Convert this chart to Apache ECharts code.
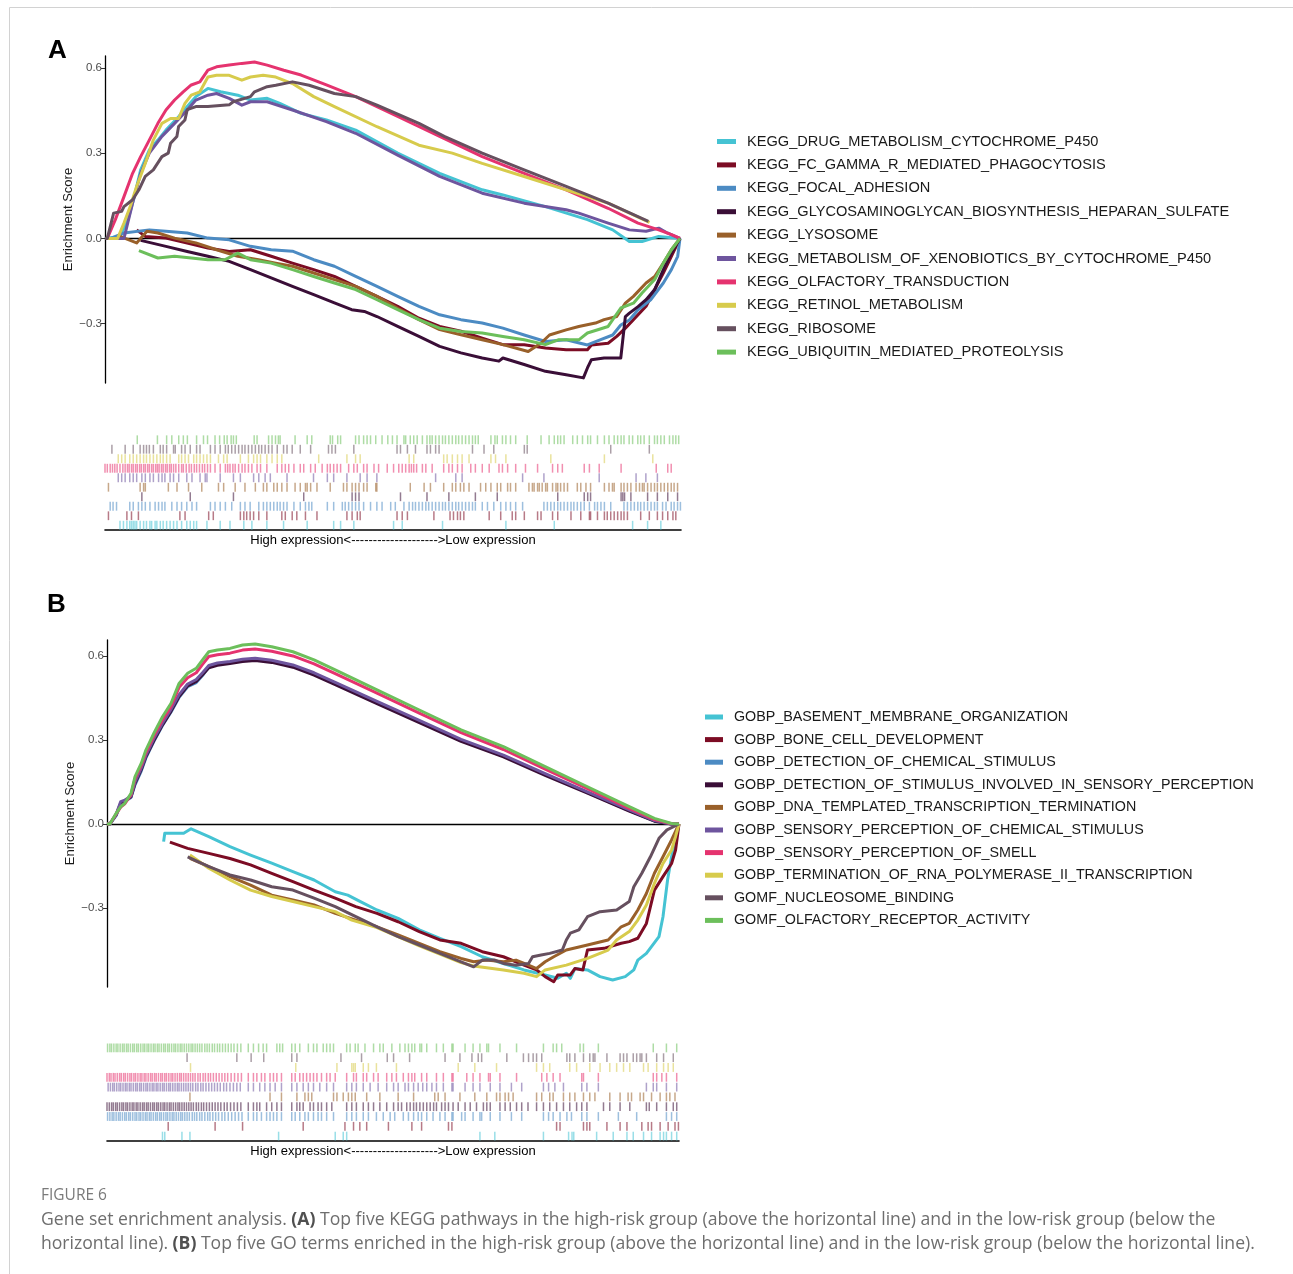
<!DOCTYPE html>
<html><head><meta charset="utf-8">
<script src="https://cdn.jsdelivr.net/npm/echarts@6/dist/echarts.min.js"></script>
<style>html,body{margin:0;padding:0;background:#fff}#c{width:1293px;height:1274px}</style>
</head><body><div id="c"></div>
<script>
// ---------- names ----------
const keggNames = ["KEGG_DRUG_METABOLISM_CYTOCHROME_P450","KEGG_FC_GAMMA_R_MEDIATED_PHAGOCYTOSIS","KEGG_FOCAL_ADHESION","KEGG_GLYCOSAMINOGLYCAN_BIOSYNTHESIS_HEPARAN_SULFATE","KEGG_LYSOSOME","KEGG_METABOLISM_OF_XENOBIOTICS_BY_CYTOCHROME_P450","KEGG_OLFACTORY_TRANSDUCTION","KEGG_RETINOL_METABOLISM","KEGG_RIBOSOME","KEGG_UBIQUITIN_MEDIATED_PROTEOLYSIS"];
const goNames = ["GOBP_BASEMENT_MEMBRANE_ORGANIZATION","GOBP_BONE_CELL_DEVELOPMENT","GOBP_DETECTION_OF_CHEMICAL_STIMULUS","GOBP_DETECTION_OF_STIMULUS_INVOLVED_IN_SENSORY_PERCEPTION","GOBP_DNA_TEMPLATED_TRANSCRIPTION_TERMINATION","GOBP_SENSORY_PERCEPTION_OF_CHEMICAL_STIMULUS","GOBP_SENSORY_PERCEPTION_OF_SMELL","GOBP_TERMINATION_OF_RNA_POLYMERASE_II_TRANSCRIPTION","GOMF_NUCLEOSOME_BINDING","GOMF_OLFACTORY_RECEPTOR_ACTIVITY"];
const yTicks = [-0.3, 0, 0.3, 0.6];
const xLabel = "High expression<-------------------->Low expression";

// ---------- running enrichment score, panel A: [rank %, ES] ----------
const esA_drug = [[0,0],[2.6,0.007],[4.0,0.066],[5.1,0.147],[6.2,0.241],[7.7,0.311],[9.2,0.346],[10.6,0.381],[12.8,0.428],[14.3,0.464],[15.8,0.499],[17.9,0.528],[20.1,0.516],[23.1,0.504],[25.3,0.487],[28.2,0.493],[30.4,0.475],[34.1,0.440],[38.5,0.417],[43.6,0.381],[50.9,0.300],[58.2,0.229],[65.6,0.171],[69.2,0.153],[76.6,0.112],[83.9,0.066],[88.3,0.030],[91.2,-0.011],[93.4,-0.011],[96.3,0.007],[100,0]];
const esA_fc = [[5.5,0.030],[7.0,0.007],[10.6,0.001],[14.3,-0.016],[17.9,-0.034],[21.6,-0.046],[25.3,-0.040],[28.9,-0.063],[32.6,-0.087],[36.3,-0.110],[39.9,-0.134],[43.6,-0.169],[47.3,-0.204],[50.9,-0.239],[54.6,-0.281],[58.2,-0.310],[61.9,-0.327],[65.6,-0.351],[69.2,-0.374],[72.9,-0.374],[76.6,-0.386],[80.2,-0.392],[83.9,-0.392],[84.6,-0.375],[87.5,-0.369],[89.0,-0.345],[90.5,-0.316],[91.9,-0.286],[94.1,-0.239],[95.6,-0.180],[97.1,-0.122],[98.5,-0.063],[100,0]];
const esA_focal = [[1.0,0.0],[3.3,0.019],[7.7,0.030],[10.6,0.025],[14.3,0.019],[17.9,0.001],[21.6,-0.005],[25.3,-0.028],[28.9,-0.040],[32.6,-0.045],[36.3,-0.075],[39.9,-0.098],[43.6,-0.134],[47.3,-0.169],[50.9,-0.204],[54.6,-0.239],[58.2,-0.269],[61.9,-0.286],[65.6,-0.298],[69.2,-0.316],[72.9,-0.340],[76.6,-0.363],[80.2,-0.357],[83.9,-0.375],[86.1,-0.357],[88.3,-0.340],[89.7,-0.305],[91.2,-0.287],[92.7,-0.251],[94.9,-0.216],[97.1,-0.157],[98.5,-0.110],[99.6,-0.063],[100,0]];
const esA_glyco = [[6.2,-0.007],[10.6,-0.028],[14.3,-0.046],[17.9,-0.063],[21.6,-0.081],[25.3,-0.110],[28.9,-0.139],[32.6,-0.169],[36.3,-0.198],[39.9,-0.227],[42.9,-0.251],[45.1,-0.257],[47.3,-0.275],[50.9,-0.310],[54.6,-0.345],[58.2,-0.380],[61.9,-0.403],[65.6,-0.421],[68.5,-0.432],[69.2,-0.421],[72.9,-0.444],[76.6,-0.468],[80.2,-0.480],[83.2,-0.491],[83.9,-0.456],[84.6,-0.427],[86.8,-0.421],[89.7,-0.421],[90.5,-0.275],[91.2,-0.263],[92.7,-0.240],[94.1,-0.216],[95.6,-0.180],[97.1,-0.110],[98.5,-0.052],[100,0]];
const esA_lyso = [[2.6,0.007],[5.5,-0.016],[7.3,0.025],[9.2,0.019],[12.1,0.001],[15.8,-0.016],[19.4,-0.040],[23.1,-0.063],[26.7,-0.075],[29.7,-0.087],[32.6,-0.098],[36.3,-0.122],[39.9,-0.145],[43.6,-0.169],[47.3,-0.204],[50.9,-0.246],[54.6,-0.286],[58.2,-0.321],[61.9,-0.339],[65.6,-0.357],[69.2,-0.374],[73.6,-0.398],[75.8,-0.369],[77.3,-0.340],[80.2,-0.322],[82.4,-0.310],[85.3,-0.298],[86.8,-0.286],[89.0,-0.275],[90.5,-0.228],[91.9,-0.204],[94.1,-0.157],[95.6,-0.134],[97.1,-0.087],[98.5,-0.040],[100,0]];
const esA_xeno = [[0,0],[3.3,0],[4.8,0.124],[6.2,0.229],[7.7,0.300],[9.9,0.359],[12.1,0.405],[14.3,0.452],[15.8,0.487],[17.9,0.504],[19.4,0.510],[21.6,0.493],[23.8,0.469],[25.3,0.481],[28.2,0.481],[32.6,0.452],[38.5,0.411],[43.6,0.370],[50.9,0.293],[58.2,0.218],[65.6,0.159],[72.9,0.124],[80.2,0.101],[82.4,0.089],[87.5,0.054],[91.2,0.030],[94.1,0.025],[96.3,0.036],[97.8,0.019],[100,0]];
const esA_olf = [[0,0],[0.4,0],[1.8,0.066],[3.3,0.147],[4.8,0.229],[6.2,0.288],[7.7,0.346],[9.2,0.405],[10.6,0.452],[12.1,0.487],[13.6,0.516],[15.0,0.540],[16.5,0.551],[17.9,0.592],[19.4,0.604],[21.6,0.610],[23.8,0.616],[26.0,0.621],[28.2,0.610],[31.1,0.592],[34.1,0.575],[38.5,0.540],[43.6,0.499],[50.9,0.429],[58.2,0.359],[65.6,0.288],[72.9,0.229],[80.2,0.171],[87.5,0.106],[92.7,0.054],[96.3,0.030],[98.5,0.013],[100,0]];
const esA_retinol = [[0,0],[2.2,0],[3.3,0.054],[4.4,0.113],[5.5,0.183],[7.0,0.264],[8.4,0.346],[9.9,0.405],[11.4,0.422],[12.8,0.422],[13.9,0.475],[15.0,0.504],[16.5,0.516],[17.9,0.568],[19.4,0.574],[21.6,0.574],[23.8,0.557],[25.3,0.568],[27.5,0.574],[29.7,0.568],[32.6,0.545],[36.3,0.499],[39.9,0.464],[47.3,0.393],[54.6,0.328],[60.4,0.300],[65.6,0.264],[72.9,0.218],[80.2,0.171],[87.5,0.124],[94.7,0.056]];
const esA_ribo = [[0,0],[0.4,0],[1.5,0.089],[2.9,0.095],[3.3,0.112],[4.8,0.136],[5.9,0.171],[7.0,0.218],[8.4,0.241],[9.9,0.288],[11.0,0.300],[11.4,0.335],[12.5,0.359],[12.8,0.394],[13.9,0.417],[14.3,0.453],[15.8,0.464],[17.9,0.464],[21.6,0.470],[22.3,0.481],[25.3,0.499],[26.0,0.516],[28.2,0.534],[29.7,0.539],[32.6,0.551],[35.5,0.539],[39.9,0.510],[43.6,0.499],[47.3,0.469],[54.6,0.405],[59.0,0.359],[65.6,0.300],[72.9,0.241],[80.2,0.183],[87.5,0.124],[94.5,0.060]];
const esA_ubi = [[5.9,-0.043],[9.2,-0.069],[12.1,-0.063],[15.0,-0.069],[17.9,-0.075],[20.9,-0.075],[23.1,-0.052],[25.3,-0.075],[28.9,-0.087],[32.6,-0.110],[36.3,-0.134],[39.9,-0.157],[43.6,-0.180],[47.3,-0.216],[50.9,-0.251],[54.6,-0.286],[58.2,-0.316],[61.9,-0.328],[65.6,-0.333],[69.2,-0.345],[72.9,-0.357],[76.6,-0.374],[78.8,-0.357],[82.4,-0.357],[83.9,-0.333],[87.5,-0.310],[89.7,-0.245],[91.9,-0.228],[93.4,-0.192],[95.6,-0.145],[97.1,-0.087],[98.5,-0.040],[100,0]];

// ---------- running enrichment score, panel B ----------
const esB_bm = [[9.9,-0.063],[10.1,-0.033],[11.9,-0.033],[13.4,-0.033],[14.7,-0.017],[17.8,-0.045],[21.5,-0.081],[25.1,-0.111],[28.8,-0.140],[32.5,-0.170],[36.2,-0.200],[39.9,-0.242],[42.1,-0.254],[44.3,-0.277],[47.2,-0.307],[50.9,-0.337],[54.6,-0.378],[58.2,-0.408],[61.9,-0.438],[65.6,-0.474],[69.3,-0.498],[72.9,-0.521],[76.6,-0.539],[78.8,-0.551],[80.3,-0.533],[81.0,-0.551],[81.8,-0.516],[84.0,-0.521],[86.2,-0.545],[88.4,-0.557],[90.6,-0.545],[92.1,-0.521],[92.8,-0.486],[94.3,-0.462],[96.5,-0.402],[97.2,-0.331],[98.0,-0.200],[98.7,-0.117],[99.4,-0.057],[100,0]];
const esB_bone = [[11.0,-0.065],[14.1,-0.087],[17.8,-0.105],[21.5,-0.123],[25.1,-0.146],[28.8,-0.176],[32.5,-0.206],[36.2,-0.236],[39.9,-0.265],[43.5,-0.295],[47.2,-0.319],[50.9,-0.349],[54.6,-0.384],[58.2,-0.414],[61.9,-0.426],[65.6,-0.456],[69.3,-0.474],[72.9,-0.504],[75.1,-0.521],[76.6,-0.545],[78.1,-0.563],[78.8,-0.539],[81.0,-0.539],[81.8,-0.516],[83.2,-0.521],[84.0,-0.450],[86.9,-0.444],[89.9,-0.426],[91.3,-0.420],[92.8,-0.408],[94.3,-0.355],[95.7,-0.236],[97.2,-0.188],[98.7,-0.141],[99.4,-0.093],[100,0]];
const esB_dcs = [[0,0],[0.5,0],[1.6,0.030],[2.4,0.072],[3.1,0.080],[4.2,0.095],[4.9,0.140],[6.0,0.190],[6.8,0.236],[8.2,0.295],[9.7,0.352],[11.2,0.400],[12.6,0.452],[14.1,0.490],[15.6,0.505],[16.7,0.530],[17.8,0.560],[19.3,0.570],[21.5,0.576],[23.7,0.584],[25.9,0.588],[28.8,0.581],[32.5,0.564],[36.2,0.536],[39.9,0.502],[47.2,0.434],[54.6,0.366],[61.9,0.298],[69.3,0.243],[76.6,0.177],[84.0,0.112],[91.3,0.048],[95.7,0.011],[98.7,0.000],[100,0]];
const esB_dss = [[0,0],[0.5,0],[1.6,0.033],[2.4,0.075],[3.1,0.082],[4.2,0.097],[4.9,0.145],[6.0,0.195],[6.8,0.240],[8.2,0.298],[9.7,0.354],[11.2,0.403],[12.6,0.455],[14.1,0.493],[15.6,0.509],[16.7,0.533],[17.8,0.558],[19.3,0.567],[21.5,0.573],[23.7,0.580],[25.9,0.584],[28.8,0.577],[32.5,0.560],[36.2,0.532],[39.9,0.498],[47.2,0.430],[54.6,0.362],[61.9,0.295],[69.3,0.240],[76.6,0.174],[84.0,0.110],[91.3,0.046],[95.7,0.010],[98.7,0.000],[100,0]];
const esB_dna = [[14.5,-0.123],[17.8,-0.152],[21.5,-0.188],[25.1,-0.218],[28.8,-0.254],[32.5,-0.271],[36.2,-0.289],[39.9,-0.319],[43.5,-0.343],[47.2,-0.367],[50.9,-0.396],[54.6,-0.426],[58.2,-0.456],[61.9,-0.480],[64.1,-0.492],[66.3,-0.486],[69.3,-0.492],[71.5,-0.486],[73.7,-0.504],[75.1,-0.516],[76.6,-0.492],[78.1,-0.474],[80.3,-0.450],[84.0,-0.432],[87.6,-0.414],[89.9,-0.367],[91.3,-0.355],[92.8,-0.307],[94.3,-0.248],[95.7,-0.176],[97.2,-0.117],[98.7,-0.057],[100,0]];
const esB_spcs = [[0,0],[0.5,0],[1.6,0.035],[2.4,0.080],[3.1,0.085],[4.2,0.100],[4.9,0.150],[6.0,0.200],[6.8,0.245],[8.2,0.305],[9.7,0.360],[11.2,0.410],[12.6,0.462],[14.1,0.500],[15.6,0.516],[16.7,0.540],[17.8,0.566],[19.3,0.575],[21.5,0.580],[23.7,0.588],[25.9,0.592],[28.8,0.585],[32.5,0.568],[36.2,0.540],[39.9,0.506],[47.2,0.438],[54.6,0.370],[61.9,0.302],[69.3,0.246],[76.6,0.180],[84.0,0.115],[91.3,0.050],[95.7,0.012],[98.7,0.000],[100,0]];
const esB_smell = [[0,0],[0.5,0],[1.6,0.036],[2.4,0.060],[3.1,0.072],[4.2,0.105],[4.9,0.162],[6.0,0.210],[6.8,0.255],[8.2,0.315],[9.7,0.372],[11.2,0.420],[12.6,0.488],[14.1,0.522],[15.6,0.540],[16.7,0.570],[17.8,0.598],[19.3,0.604],[21.5,0.610],[23.7,0.621],[25.9,0.625],[28.8,0.617],[32.5,0.600],[36.2,0.572],[39.9,0.537],[47.2,0.467],[54.6,0.396],[61.9,0.326],[69.3,0.266],[76.6,0.196],[84.0,0.126],[91.3,0.056],[95.7,0.016],[98.7,0.001],[100,0]];
const esB_rna = [[14.5,-0.111],[17.8,-0.158],[21.5,-0.200],[25.1,-0.236],[28.8,-0.259],[32.5,-0.277],[36.2,-0.295],[39.9,-0.313],[42.8,-0.343],[47.2,-0.370],[54.6,-0.435],[61.9,-0.495],[64.1,-0.507],[69.3,-0.521],[72.9,-0.533],[75.1,-0.545],[76.6,-0.521],[80.3,-0.504],[84.0,-0.480],[87.6,-0.450],[89.1,-0.414],[91.3,-0.384],[92.8,-0.343],[94.3,-0.289],[95.7,-0.212],[97.2,-0.141],[98.7,-0.093],[99.4,-0.045],[100,0]];
const esB_nuc = [[14.1,-0.117],[17.8,-0.152],[21.5,-0.182],[25.1,-0.200],[28.8,-0.224],[32.5,-0.236],[36.2,-0.265],[39.9,-0.295],[43.5,-0.331],[47.2,-0.367],[50.9,-0.402],[54.6,-0.432],[58.2,-0.462],[61.9,-0.492],[64.1,-0.510],[65.6,-0.486],[67.8,-0.486],[69.3,-0.498],[71.5,-0.504],[73.7,-0.498],[74.4,-0.474],[75.9,-0.468],[77.4,-0.462],[79.6,-0.450],[80.3,-0.414],[81.0,-0.390],[82.5,-0.378],[84.0,-0.331],[86.2,-0.313],[89.1,-0.307],[91.3,-0.277],[92.1,-0.224],[93.5,-0.176],[95.0,-0.117],[96.5,-0.051],[97.9,-0.021],[100,0]];
const esB_olf = [[0,0],[0.5,0],[1.6,0.038],[2.4,0.062],[3.1,0.074],[4.2,0.110],[4.9,0.169],[6.0,0.217],[6.8,0.264],[8.2,0.324],[9.7,0.383],[11.2,0.431],[12.6,0.502],[14.1,0.538],[15.6,0.556],[16.7,0.586],[17.8,0.615],[19.3,0.621],[21.5,0.627],[23.7,0.639],[25.9,0.643],[28.8,0.633],[32.5,0.615],[36.2,0.586],[39.9,0.550],[47.2,0.479],[54.6,0.407],[61.9,0.336],[69.3,0.276],[76.6,0.205],[84.0,0.133],[91.3,0.062],[95.7,0.020],[98.7,0.002],[100,0]];

// ---------- gene-set hit positions (rank %), panel A ----------
const hitA_drug = [2.6,3.2,3.8,4.3,4.6,4.9,5.2,5.5,6.1,6.7,7.2,7.8,8.1,8.7,9.0,9.6,10.1,10.7,11.3,11.9,12.5,13.3,14.2,14.8,15.4,15.9,17.7,20.0,21.7,24.1,25.5,28.1,31.0,35.1,39.7,40.9,43.2,50.1,51.6,58.6,69.6,78.0,91.6,94.2,96.5];
const hitA_fc = [0.6,3.8,4.6,5.8,13.0,13.9,18.0,18.8,23.5,24.1,24.6,25.2,25.8,26.7,28.1,30.7,31.3,32.5,33.3,34.8,36.8,42.0,42.9,43.8,44.3,50.7,51.6,52.5,57.1,59.9,60.5,61.2,61.7,62.3,66.7,68.7,70.7,71.3,72.8,75.1,75.7,77.7,78.6,80.9,82.6,84.1,84.3,85.5,86.7,87.2,87.8,88.4,89.0,89.6,90.1,90.7,93.0,94.5,95.9,96.8,97.7,98.6,99.1];
const hitA_focal = [0.9,1.4,2.0,4.3,4.9,5.8,6.4,7.0,7.8,8.7,9.3,9.9,10.4,11.6,12.5,13.3,14.2,15.1,15.9,18.3,19.1,20.0,20.9,22.0,23.5,24.3,25.2,26.7,27.5,28.1,28.7,29.3,29.9,30.4,31.0,31.6,32.8,33.9,34.8,35.4,35.9,38.6,39.7,41.2,41.7,42.3,42.9,43.5,44.1,44.9,46.1,47.2,48.1,49.6,50.4,51.9,52.8,53.4,53.9,54.5,55.1,55.7,56.2,56.8,57.4,58.0,58.6,59.1,59.7,60.3,60.9,61.4,62.0,62.6,63.2,63.8,64.3,65.5,66.4,67.5,68.7,69.6,70.4,71.3,72.5,76.2,76.8,77.4,78.0,78.6,79.1,79.7,80.3,80.9,81.4,82.0,82.6,83.2,84.1,85.0,85.5,86.1,86.7,87.8,90.1,90.7,91.3,91.9,92.5,93.0,93.6,94.2,94.8,95.4,95.9,96.8,97.4,98.3,98.8,99.4,99.9];
const hitA_glyco = [6.4,14.8,22.3,34.5,42.9,43.5,44.1,51.3,55.9,59.7,64.3,68.1,78.6,83.2,83.8,84.3,89.6,89.9,90.2,91.3,94.2,95.9,97.7,99.4];
const hitA_lyso = [0.6,6.1,6.7,7.0,11.0,12.5,14.5,16.8,19.7,20.6,22.6,24.3,26.1,27.5,28.1,29.3,29.9,30.7,31.6,33.0,33.9,34.8,35.1,35.7,36.8,39.1,41.4,42.0,42.9,43.5,44.1,44.9,45.5,47.0,47.2,53.0,55.4,56.5,58.8,60.3,60.9,61.7,62.3,63.2,65.2,66.1,67.0,68.1,68.7,69.9,70.4,71.3,73.6,74.2,74.5,75.1,75.4,75.9,76.5,76.8,77.7,78.3,78.6,79.1,79.7,80.3,82.0,82.6,83.5,84.3,86.7,87.5,88.1,88.4,89.6,90.1,90.7,91.3,92.2,92.8,93.3,93.6,94.2,94.8,95.4,95.9,96.5,97.1,97.7,98.3,98.8,99.4];
const hitA_xeno = [2.3,2.9,3.5,4.3,4.9,5.5,6.4,7.0,7.8,8.4,9.3,9.9,10.4,11.3,11.9,12.8,14.2,15.1,16.5,17.4,17.7,20.0,22.3,23.5,25.8,26.7,27.8,28.7,31.6,36.2,38.6,39.7,42.0,44.3,45.5,47.2,57.4,60.9,62.0,72.5,76.2,85.8,92.2,93.9,95.9];
const hitA_olf = [0.0,0.4,0.9,1.3,1.7,2.1,2.6,3.1,3.5,3.9,4.2,4.6,4.9,5.3,5.6,6.0,6.3,6.7,7.0,7.4,7.7,8.1,8.4,8.8,9.1,9.4,9.8,10.1,10.5,10.8,11.2,11.5,11.9,12.3,12.8,13.3,13.6,14.1,14.6,15.0,15.5,15.9,16.4,16.9,17.3,17.8,18.3,19.1,20.0,20.9,21.3,21.7,22.2,22.6,23.2,23.8,24.3,24.9,25.5,26.4,27.0,28.1,29.9,30.7,31.3,31.9,32.8,33.9,34.5,35.7,36.5,37.7,38.6,39.1,39.7,40.3,40.9,42.3,43.2,43.8,44.9,45.5,46.7,47.5,49.0,50.1,51.0,51.6,52.2,52.8,53.2,53.6,54.1,55.1,55.7,56.8,58.8,59.7,60.3,61.2,62.0,63.5,64.3,65.5,66.7,68.4,69.0,69.9,71.3,73.0,75.1,77.7,78.6,79.4,83.2,84.1,85.8,89.6,95.7,97.7,98.3];
const hitA_retinol = [2.3,2.9,3.5,4.3,4.9,5.5,6.1,6.7,7.2,7.8,8.4,9.0,9.6,10.1,10.7,11.3,12.8,13.3,13.9,14.5,15.4,15.9,16.5,17.1,17.7,18.3,19.7,20.6,21.2,23.5,24.9,25.8,26.4,27.0,28.1,29.0,29.9,30.7,37.1,42.0,43.5,44.3,52.8,53.6,58.8,59.4,60.3,61.2,62.0,63.2,67.0,67.8,69.6,77.4,86.7,95.1];
const hitA_ribo = [1.2,3.5,4.9,6.1,6.7,7.2,7.7,8.4,9.6,10.1,10.7,11.9,12.2,13.3,13.9,14.8,15.9,16.5,18.3,19.1,20.0,20.9,21.4,22.0,22.6,23.2,23.8,24.3,24.9,25.5,26.1,26.7,27.2,27.8,28.4,29.0,29.9,31.0,31.6,32.5,33.9,35.7,38.8,39.4,40.0,43.2,50.7,51.3,52.5,53.9,55.9,56.5,57.4,58.0,63.8,65.8,67.5,72.8,73.3,87.8,94.5];
const hitA_ubi = [5.6,9.1,10.7,11.6,12.8,13.6,14.3,15.9,17.1,17.8,19.1,19.9,20.7,21.2,21.9,22.3,22.8,25.9,26.4,28.4,29.0,29.6,30.1,30.4,33.0,35.1,35.9,39.1,39.5,40.4,40.9,43.5,44.1,44.9,45.5,46.1,47.0,48.1,49.1,49.9,50.7,51.9,52.2,53.0,53.6,54.2,55.1,55.9,56.4,56.8,57.4,58.0,58.6,59.1,59.7,60.3,60.9,61.4,62.0,62.6,63.2,63.8,64.3,64.8,67.0,67.7,68.1,69.0,69.6,70.4,71.3,73.3,75.7,77.1,78.0,78.6,79.1,79.7,81.2,82.0,82.9,83.8,84.3,85.5,86.7,87.5,88.4,89.0,89.6,90.1,91.0,91.6,92.5,93.0,93.6,94.5,95.4,95.9,96.5,97.1,98.0,98.6,99.1,99.6];

// ---------- gene-set hit positions (rank %), panel B ----------
const hitB_bm = [9.7,10.1,13.1,14.5,30.0,39.9,41.3,41.9,65.2,67.8,76.3,80.7,81.3,81.6,85.6,88.5,90.9,92.0,93.8,95.2,96.7,97.3,97.8,98.7,99.6];
const hitB_bone = [10.7,18.9,23.7,34.3,41.6,43.1,44.2,45.4,49.2,53.3,55.0,59.7,60.3,78.6,79.2,83.3,83.9,84.4,87.4,89.7,90.9,93.5,94.6,95.2,96.7,98.1,99.3,99.9];
const hitB_dcs = [0.1,0.5,0.9,1.2,1.6,2.0,2.3,2.7,3.1,3.4,3.8,4.1,4.5,4.9,5.2,5.6,5.9,6.3,6.7,7.0,7.4,7.7,8.1,8.5,8.8,9.2,9.5,9.9,10.3,10.6,11.0,11.4,11.7,12.1,12.5,12.9,13.2,13.6,14.0,14.4,14.9,15.3,15.7,16.2,16.6,17.1,17.6,18.0,18.5,19.0,19.5,20.1,20.6,21.2,21.8,22.4,23.0,23.6,24.7,25.6,26.2,27.0,27.9,28.5,29.1,29.7,30.5,32.3,32.9,33.7,34.6,35.2,36.1,36.9,37.5,38.4,39.6,41.9,42.8,43.6,44.8,45.7,47.1,48.3,49.5,50.3,51.8,52.7,53.6,54.4,55.0,55.9,57.0,58.2,59.1,60.3,60.5,62.0,62.6,64.0,65.2,65.5,67.0,68.7,70.7,72.5,76.3,77.2,78.0,79.2,80.4,81.2,83.0,83.9,85.9,89.4,92.6,97.8,98.7,99.6];
const hitB_dss = [0.0,0.4,0.8,1.1,1.5,1.8,2.2,2.6,2.9,3.3,3.6,4.0,4.4,4.7,5.1,5.4,5.8,6.2,6.5,6.9,7.2,7.6,8.0,8.3,8.7,9.0,9.4,9.8,10.1,10.5,10.9,11.2,11.6,12.0,12.4,12.7,13.1,13.5,13.9,14.3,14.7,15.1,15.6,16.0,16.5,16.9,17.4,17.9,18.4,18.9,19.4,19.9,20.5,21.0,21.6,22.2,22.8,23.4,24.7,25.6,26.2,26.7,27.9,28.8,29.7,30.5,32.3,33.2,33.7,34.3,35.5,36.1,36.9,37.5,38.4,39.3,41.9,42.8,43.6,44.8,45.7,46.6,47.7,48.9,50.1,50.9,51.5,52.4,53.0,53.6,54.1,54.7,55.3,55.9,56.5,57.1,57.6,58.5,59.1,59.7,60.5,61.4,62.6,63.5,64.6,65.8,66.4,67.0,68.7,69.6,70.5,71.6,72.5,73.6,75.1,76.3,77.4,78.6,79.8,80.9,82.1,83.0,83.9,86.8,87.9,89.7,91.4,94.3,94.8,96.1,97.8,99.0,99.6];
const hitB_dna = [14.5,28.5,30.5,33.2,34.6,35.2,35.8,39.6,40.2,41.3,42.2,42.8,43.4,45.4,47.7,50.9,53.6,57.3,57.9,59.1,61.7,64.3,66.4,68.1,68.7,69.6,70.2,71.0,75.1,76.0,77.4,78.0,79.8,80.9,81.8,83.3,84.4,85.3,87.9,89.7,91.1,91.7,93.2,93.8,95.2,96.7,97.8,98.4,99.3];
const hitB_spcs = [0.2,0.6,1.0,1.3,1.7,2.1,2.4,2.8,3.2,3.5,3.9,4.2,4.6,5.0,5.3,5.7,6.0,6.4,6.8,7.1,7.5,7.9,8.2,8.6,8.9,9.3,9.7,10.0,10.4,10.8,11.1,11.5,11.9,12.3,12.6,13.0,13.4,13.8,14.2,14.6,15.0,15.5,15.9,16.4,16.8,17.3,17.8,18.3,18.8,19.3,19.8,20.4,20.9,21.5,22.1,22.7,23.3,24.7,25.6,26.7,27.6,28.5,29.4,30.5,32.3,33.2,34.3,35.2,36.1,37.2,38.4,39.6,41.9,42.8,43.6,44.8,46.0,47.4,48.9,50.1,50.9,52.1,52.7,53.6,54.4,55.2,55.9,56.8,57.6,58.8,60.3,60.5,62.6,64.0,65.2,67.0,68.7,70.7,72.5,76.3,77.2,78.3,79.8,83.0,83.9,85.9,94.3,95.5,96.1,97.8,99.6];
const hitB_smell = [0.0,0.4,0.7,1.1,1.4,1.8,2.2,2.5,2.9,3.2,3.6,4.0,4.3,4.7,5.0,5.4,5.8,6.1,6.5,6.8,7.2,7.6,7.9,8.3,8.6,9.0,9.4,9.7,10.1,10.4,10.8,11.2,11.5,11.9,12.3,12.7,13.0,13.4,13.8,14.2,14.6,15.0,15.4,15.9,16.3,16.8,17.2,17.7,18.1,18.6,19.1,19.6,20.1,20.6,21.1,21.7,22.3,22.9,23.5,24.7,25.6,26.2,27.0,27.6,28.5,29.1,29.7,30.5,32.3,32.9,33.7,34.3,34.9,35.5,36.1,36.7,37.5,38.4,39.0,39.9,41.9,43.1,43.6,44.8,45.4,46.6,47.4,48.9,49.8,50.6,51.8,52.7,53.3,53.8,55.0,55.9,57.6,58.8,60.3,60.5,62.9,64.0,65.2,66.7,67.0,68.7,71.6,76.0,76.9,78.0,79.2,83.0,83.3,85.9,95.5,96.1,97.0,97.8,99.6];
const hitB_rna = [14.6,33.0,40.2,42.8,43.1,43.4,44.8,45.7,47.1,50.6,61.4,64.3,68.1,75.1,76.3,77.4,80.9,82.1,84.4,86.2,87.9,89.1,90.3,91.4,93.8,94.6,96.1,97.3,98.1,99.0];
const hitB_nuc = [14.0,22.7,25.2,27.4,32.3,33.2,40.9,44.5,49.0,50.1,52.9,59.1,61.7,63.8,64.9,65.5,69.9,72.8,73.7,74.5,75.1,76.0,80.4,80.9,81.8,83.3,84.4,85.0,85.3,87.4,89.7,90.3,90.9,92.0,92.6,93.2,93.5,94.3,96.1,97.3,99.0];
const hitB_olf = [0.1,0.5,0.8,1.2,1.6,1.9,2.3,2.7,3.0,3.4,3.7,4.1,4.5,4.8,5.2,5.5,5.9,6.3,6.6,7.0,7.3,7.7,8.1,8.4,8.8,9.1,9.5,9.9,10.2,10.6,10.9,11.3,11.7,12.0,12.4,12.8,13.1,13.5,13.9,14.3,14.7,15.0,15.4,15.8,16.2,16.6,17.1,17.5,17.9,18.4,18.8,19.3,19.7,20.2,20.7,21.2,21.7,22.2,22.8,23.4,24.7,25.6,26.5,27.3,27.9,29.7,30.2,30.7,32.3,32.9,33.7,35.2,36.1,36.7,37.8,38.4,39.0,39.6,41.9,42.5,43.4,43.9,45.1,46.6,47.7,48.3,49.8,51.2,52.1,52.7,53.3,53.8,54.7,55.0,55.9,57.6,58.8,60.3,60.5,62.6,64.0,65.2,66.4,66.7,68.7,71.6,76.3,78.0,78.6,79.5,82.7,83.3,85.9,95.5,97.8,99.6];

// ---------- assembly ----------
const palette = ['#45C3D3','#7C0C24','#4C8BC3','#3A0E37','#99602A','#6E559E','#E5336F','#D7CB4C','#66505F','#6CBF5B'];
const esA = [esA_drug, esA_fc, esA_focal, esA_glyco, esA_lyso, esA_xeno, esA_olf, esA_retinol, esA_ribo, esA_ubi];
const esB = [esB_bm, esB_bone, esB_dcs, esB_dss, esB_dna, esB_spcs, esB_smell, esB_rna, esB_nuc, esB_olf];
const hitA = [hitA_drug, hitA_fc, hitA_focal, hitA_glyco, hitA_lyso, hitA_xeno, hitA_olf, hitA_retinol, hitA_ribo, hitA_ubi];
const hitB = [hitB_bm, hitB_bone, hitB_dcs, hitB_dss, hitB_dna, hitB_spcs, hitB_smell, hitB_rna, hitB_nuc, hitB_olf];

const FONT = '"Liberation Sans", Arial, sans-serif';
const CAP = '"Open Sans", sans-serif';
const fmt = v => (Math.abs(v) < 1e-9 ? '0.0' : v.toFixed(1).replace('-', '\u2212'));

function esYAxis(grid, min, max) {
  return {
    type: 'value', gridIndex: grid, min: min, max: max,
    axisLine: { show: true, lineStyle: { color: '#000', width: 1.3 } },
    axisTick: { show: true, length: 4, customValues: yTicks, lineStyle: { color: '#333', width: 1 } },
    axisLabel: { customValues: yTicks, formatter: fmt, color: '#4d4d4d', fontSize: 11.5, fontFamily: FONT, margin: 3 },
    splitLine: { show: false },
    name: 'Enrichment Score', nameLocation: 'middle', nameGap: 28, nameRotate: 90,
    nameTextStyle: { fontSize: 13, color: '#1a1a1a', fontFamily: FONT }
  };
}
function esXAxis(grid) {
  return {
    type: 'value', gridIndex: grid, min: 0, max: 100,
    axisLine: { show: true, onZero: true, lineStyle: { color: '#000', width: 1.3 } },
    axisTick: { show: false }, axisLabel: { show: false }, splitLine: { show: false }
  };
}
function rugXAxis(grid) {
  return {
    type: 'value', gridIndex: grid, min: 0, max: 100,
    axisLine: { show: true, onZero: false, lineStyle: { color: '#000', width: 1.6 } },
    axisTick: { show: false }, axisLabel: { show: false }, splitLine: { show: false },
    name: xLabel, nameLocation: 'middle', nameGap: 4,
    nameTextStyle: { fontSize: 13, color: '#000', fontFamily: FONT, verticalAlign: 'top' }
  };
}
function rugYAxis(grid) {
  return { type: 'value', gridIndex: grid, min: 0, max: 10, show: false };
}

const series = [];
function addPanel(names, es, hits, xi, yi, rxi, ryi) {
  names.forEach((n, i) => {
    series.push({
      name: n, type: 'line', xAxisIndex: xi, yAxisIndex: yi, data: es[i],
      showSymbol: false, symbol: 'none', color: palette[i], silent: true,
      lineStyle: { width: 3, color: palette[i], join: 'round' }, z: 2 + i * 0.01
    });
  });
  names.forEach((n, i) => {
    series.push({
      name: 'hits ' + n, type: 'scatter', xAxisIndex: rxi, yAxisIndex: ryi,
      data: hits[i].map(x => [x, i + 0.5]), symbol: 'rect', symbolSize: [1.5, 8.8],
      itemStyle: { color: palette[i], opacity: 0.55 }, silent: true
    });
  });
}
addPanel(keggNames, esA, hitA, 0, 0, 1, 1);
addPanel(goNames, esB, hitB, 2, 2, 3, 3);

const option = {
  animation: false,
  backgroundColor: '#fff',
  grid: [
    { left: 105, top: 56, width: 575, height: 327 },
    { left: 105, top: 435, width: 576, height: 95 },
    { left: 107, top: 640, width: 572, height: 347 },
    { left: 107, top: 1043, width: 572, height: 98 }
  ],
  xAxis: [esXAxis(0), rugXAxis(1), esXAxis(2), rugXAxis(3)],
  yAxis: [esYAxis(0, -0.509, 0.642), rugYAxis(1), esYAxis(2, -0.582, 0.657), rugYAxis(3)],
  legend: [
    { data: keggNames, orient: 'vertical', left: 717, top: 134, padding: 0, icon: 'rect',
      itemWidth: 19, itemHeight: 5, itemGap: 8.4, selectedMode: false,
      textStyle: { fontSize: 14.6, lineHeight: 14, color: '#1a1a1a', fontFamily: FONT, padding: [0, 0, 0, 6] } },
    { data: goNames, orient: 'vertical', left: 705, top: 710, padding: 0, icon: 'rect',
      itemWidth: 18, itemHeight: 5, itemGap: 8.6, selectedMode: false,
      textStyle: { fontSize: 14.3, lineHeight: 14, color: '#1a1a1a', fontFamily: FONT, padding: [0, 0, 0, 6] } }
  ],
  graphic: [
    { type: 'line', shape: { x1: 9.5, y1: 7.5, x2: 1293, y2: 7.5 }, style: { stroke: '#d2d2d2', lineWidth: 1 } },
    { type: 'line', shape: { x1: 9.5, y1: 7.5, x2: 9.5, y2: 1274 }, style: { stroke: '#d2d2d2', lineWidth: 1 } },
    { type: 'text', left: 48, top: 38, style: { text: 'A', fontSize: 26, fontWeight: 'bold', fontFamily: FONT, fill: '#000' } },
    { type: 'text', left: 47, top: 592, style: { text: 'B', fontSize: 26, fontWeight: 'bold', fontFamily: FONT, fill: '#000' } },
    { type: 'text', left: 41, top: 1188, style: { text: 'FIGURE 6', fontSize: 15.5, fontFamily: CAP, fill: '#7a7a7a' } },
    { type: 'text', left: 41, top: 1211, style: {
        text: 'Gene set enrichment analysis. {b|(A)} Top five KEGG pathways in the high-risk group (above the horizontal line) and in the low-risk group (below the',
        fontSize: 17.6, fontFamily: CAP, fill: '#6e6e6e',
        rich: { b: { fontSize: 17.6, fontWeight: 'bold', fontFamily: CAP, fill: '#505050' } } } },
    { type: 'text', left: 41, top: 1235, style: {
        text: 'horizontal line). {b|(B)} Top five GO terms enriched in the high-risk group (above the horizontal line) and in the low-risk group (below the horizontal line).',
        fontSize: 17.6, fontFamily: CAP, fill: '#6e6e6e',
        rich: { b: { fontSize: 17.6, fontWeight: 'bold', fontFamily: CAP, fill: '#505050' } } } }
  ],
  series: series
};
const chart = echarts.init(document.getElementById('c'), null, { renderer: 'canvas' });
chart.setOption(option);
</script></body></html>
